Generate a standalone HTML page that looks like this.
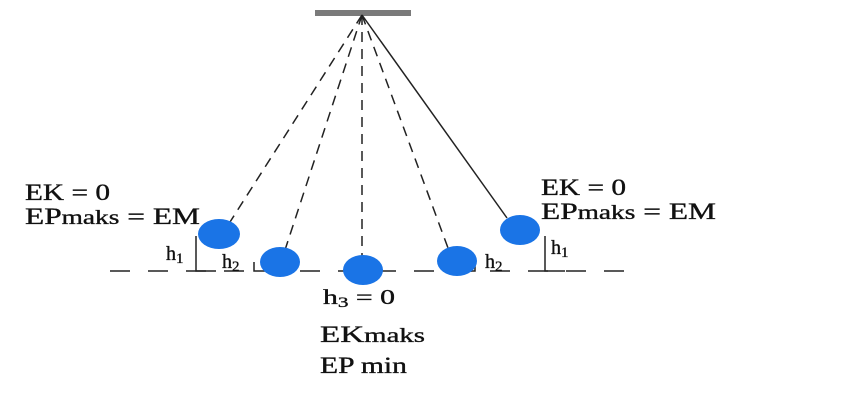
<!DOCTYPE html>
<html><head><meta charset="utf-8"><style>
html,body{margin:0;padding:0;background:#fff}
svg{display:block}
text{font-family:"Liberation Serif",serif;fill:#111;stroke:#111;stroke-width:0.35}
</style></head><body>
<svg width="843" height="403" viewBox="0 0 843 403">
<rect x="315" y="10" width="96" height="6" fill="#7a7a7a"/>
<g stroke="#222" stroke-width="1.5" fill="none">
<line x1="362" y1="15" x2="230" y2="222" stroke-dasharray="10,7"/>
<line x1="362" y1="15" x2="285" y2="250" stroke-dasharray="10,7"/>
<line x1="362" y1="15" x2="362" y2="256" stroke-dasharray="10,7"/>
<line x1="362" y1="15" x2="448" y2="248" stroke-dasharray="10,7"/>
<line x1="362" y1="15" x2="507" y2="218"/>
</g>
<line x1="110" y1="271" x2="640" y2="271" stroke="#222" stroke-width="1.5" stroke-dasharray="20,18"/>
<g stroke="#222" stroke-width="1.5" fill="none">
<polyline points="196,236 196,271 216,271"/>
<polyline points="254,262 254,271 262,271"/>
<polyline points="468,271 475,271 475,262"/>
<polyline points="545,236 545,271 565,271"/>
</g>
<g fill="#1a74e6">
<ellipse cx="219" cy="234" rx="21" ry="15"/>
<ellipse cx="280" cy="262" rx="20" ry="15"/>
<ellipse cx="363" cy="270" rx="20" ry="15"/>
<ellipse cx="457" cy="261" rx="20" ry="15"/>
<ellipse cx="520" cy="230" rx="20" ry="15"/>
</g>
<g font-size="23">
<text x="25" y="200" textLength="85" lengthAdjust="spacingAndGlyphs">EK = 0</text>
<text x="25" y="224" textLength="175" lengthAdjust="spacingAndGlyphs">EP<tspan font-size="20">maks</tspan> = EM</text>
<text x="541" y="195" textLength="85" lengthAdjust="spacingAndGlyphs">EK = 0</text>
<text x="541" y="219" textLength="175" lengthAdjust="spacingAndGlyphs">EP<tspan font-size="20">maks</tspan> = EM</text>
<text x="166" y="260" font-size="20">h<tspan font-size="15" dy="3">1</tspan></text>
<text x="222" y="268" font-size="20">h<tspan font-size="15" dy="3">2</tspan></text>
<text x="485" y="268" font-size="20">h<tspan font-size="15" dy="3">2</tspan></text>
<text x="551" y="254" font-size="20">h<tspan font-size="15" dy="3">1</tspan></text>
<text x="323" y="304" font-size="21" textLength="72" lengthAdjust="spacingAndGlyphs">h<tspan font-size="15" dy="3">3</tspan><tspan dy="-3"> = 0</tspan></text>
<text x="320" y="342" textLength="105" lengthAdjust="spacingAndGlyphs">EK<tspan font-size="20">maks</tspan></text>
<text x="320" y="373" textLength="87" lengthAdjust="spacingAndGlyphs">EP min</text>
</g>
</svg>
</body></html>
